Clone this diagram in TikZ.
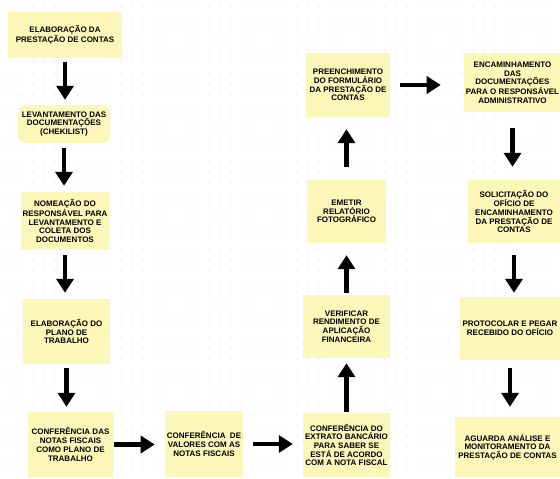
\documentclass[tikz,border=0pt]{standalone}
\usepackage{fontspec}
\setmainfont{Liberation Sans}
\usetikzlibrary{arrows.meta}
\definecolor{notecol}{RGB}{252,246,184}
\definecolor{dotcol}{RGB}{215,215,215}
\tikzset{
  note/.style={fill=notecol, align=center, inner sep=2pt,
    font=\bfseries\fontsize{8}{8.7}\selectfont},
  flow/.style={line width=4.5pt, -{Triangle[width=17pt,length=14pt]}}
}
\begin{document}
\begin{tikzpicture}[x=1pt,y=-1pt]
\useasboundingbox (0,0) rectangle (560,479);
\fill[white] (0,0) rectangle (560,479);
\foreach \i in {0,...,51}
  \foreach \j in {0,...,43}
    \fill[dotcol] (11*\i, 7+11*\j) circle (0.7);
\node[note, minimum width=114, minimum height=46] (b1) at (65,35)
  {ELABORAÇÃO DA\\PRESTAÇÃO DE CONTAS};
\node[note, rounded corners=8pt, minimum width=92, minimum height=38] (b2) at (64,124)
  {LEVANTAMENTO DAS\\DOCUMENTAÇÕES\\(CHEKILIST)};
\node[note, minimum width=86, minimum height=58] (b3) at (65,221)
  {NOMEAÇÃO DO\\RESPONSÁVEL PARA\\LEVANTAMENTO E\\COLETA DOS\\DOCUMENTOS};
\node[note, minimum width=87, minimum height=65] (b4) at (66.5,331.5)
  {ELABORAÇÃO DO\\PLANO DE\\TRABALHO};
\node[note, minimum width=85, minimum height=65] (b5) at (70.5,444.5)
  {CONFERÊNCIA DAS\\NOTAS FISCAIS\\COMO PLANO DE\\TRABALHO};
\node[note, minimum width=78, minimum height=66] (b6) at (204,444)
  {CONFERÊNCIA \ DE\\VALORES COM AS\\NOTAS FISCAIS};
\node[note, minimum width=87, minimum height=64] (b7) at (346.5,445)
  {CONFERÊNCIA DO\\EXTRATO BANCÁRIO\\PARA SABER SE\\ESTÁ DE ACORDO\\COM A NOTA FISCAL};
\node[note, minimum width=87, minimum height=63] (b8) at (346.5,326.5)
  {VERIFICAR\\RENDIMENTO DE\\APLICAÇÃO\\FINANCEIRA};
\node[note, minimum width=79, minimum height=63] (b9) at (346.5,211.5)
  {EMETIR\\RELATÓRIO\\FOTOGRÁFICO};
\node[note, minimum width=84, minimum height=64] (b10) at (348,85)
  {PREENCHIMENTO\\DO FORMULÁRIO\\DA PRESTAÇÃO DE\\CONTAS};
\node[note, minimum width=95, minimum height=59] (b11) at (512.5,82.5)
  {ENCAMINHAMENTO\\DAS\\DOCUMENTAÇÕES\\PARA O RESPONSÁVEL\\ADMINISTRATIVO};
\node[note, minimum width=92, minimum height=63] (b12) at (514,211.5)
  {SOLICITAÇÃO DO\\OFÍCIO DE\\ENCAMINHAMENTO\\DA PRESTAÇÃO DE\\CONTAS};
\node[note, minimum width=100, minimum height=63] (b13) at (510,328.5)
  {PROTOCOLAR E PEGAR\\RECEBIDO DO OFÍCIO};
\node[note, minimum width=105, minimum height=60] (b14) at (507.5,447)
  {AGUARDA ANÁLISE E\\MONITORAMENTO DA\\PRESTAÇÃO DE CONTAS};
\draw[flow, shorten <=4pt, shorten >=5pt] (b1.south) -- (b1.south |- b2.north);
\draw[flow, shorten <=5pt, shorten >=6pt] (b2.south) -- (b2.south |- b3.north);
\draw[flow, shorten <=5pt, shorten >=6pt] (b3.south) -- (b3.south |- b4.north);
\draw[flow, shorten <=4pt, shorten >=5pt] (b4.south) -- (b4.south |- b5.north);
\draw[flow, shorten <=1pt, shorten >=10pt] (b5.east) -- (b5.east -| b6.west);
\draw[flow, shorten <=10pt, shorten >=10pt] (b6.east) -- (b6.east -| b7.west);
\draw[flow, shorten <=1pt, shorten >=5pt] (b7.north) -- (b7.north |- b8.south);
\draw[flow, shorten <=2pt, shorten >=12pt] (b8.north) -- (b8.north |- b9.south);
\draw[flow, shorten <=13pt, shorten >=12pt] (b9.north) -- (b9.north |- b10.south);
\draw[flow, shorten <=10pt, shorten >=23pt] (b10.east) -- (b10.east -| b11.west);
\draw[flow, shorten <=16pt, shorten >=13pt] (b11.south) -- (b11.south |- b12.north);
\draw[flow, shorten <=12pt, shorten >=4pt] (b12.south) -- (b12.south |- b13.north);
\draw[flow, shorten <=8pt, shorten >=10pt] (b13.south) -- (b13.south |- b14.north);
\end{tikzpicture}
\end{document}
